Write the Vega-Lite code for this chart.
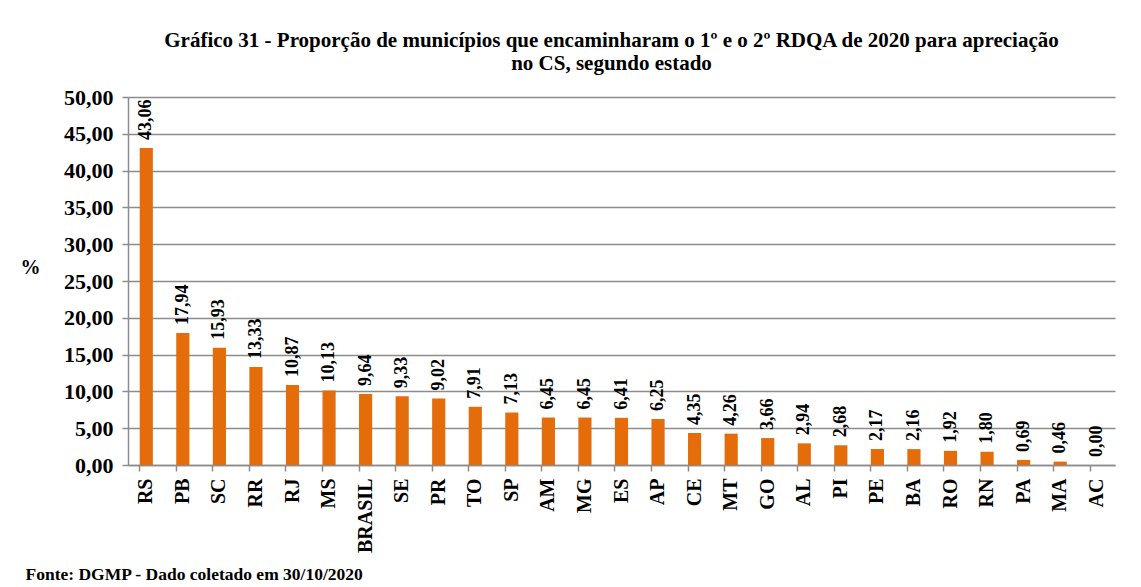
{
  "$schema": "https://vega.github.io/schema/vega-lite/v6.json",
  "width": 987,
  "height": 368,
  "autosize": {"type": "none"},
  "padding": {"left": 128, "top": 97, "right": 26, "bottom": 122},
  "background": "white",
  "config": {
    "locale": {"number": {"decimal": ",", "thousands": ".", "grouping": [3], "currency": ["R$", ""]}},
    "view": {"stroke": null},
    "font": "Liberation Serif, serif"
  },
  "title": {
    "text": ["Gráfico 31 - Proporção de municípios que encaminharam o 1º e o 2º RDQA  de 2020 para apreciação", "no CS,  segundo estado"],
    "font": "Liberation Serif, serif",
    "fontSize": 21,
    "fontWeight": "bold",
    "color": "black",
    "anchor": "middle",
    "lineHeight": 23,
    "offset": 12,
    "dx": -10
  },
  "data": {
    "values": [
      {"estado": "RS", "valor": 43.06},
      {"estado": "PB", "valor": 17.94},
      {"estado": "SC", "valor": 15.93},
      {"estado": "RR", "valor": 13.33},
      {"estado": "RJ", "valor": 10.87},
      {"estado": "MS", "valor": 10.13},
      {"estado": "BRASIL", "valor": 9.64},
      {"estado": "SE", "valor": 9.33},
      {"estado": "PR", "valor": 9.02},
      {"estado": "TO", "valor": 7.91},
      {"estado": "SP", "valor": 7.13},
      {"estado": "AM", "valor": 6.45},
      {"estado": "MG", "valor": 6.45},
      {"estado": "ES", "valor": 6.41},
      {"estado": "AP", "valor": 6.25},
      {"estado": "CE", "valor": 4.35},
      {"estado": "MT", "valor": 4.26},
      {"estado": "GO", "valor": 3.66},
      {"estado": "AL", "valor": 2.94},
      {"estado": "PI", "valor": 2.68},
      {"estado": "PE", "valor": 2.17},
      {"estado": "BA", "valor": 2.16},
      {"estado": "RO", "valor": 1.92},
      {"estado": "RN", "valor": 1.80},
      {"estado": "PA", "valor": 0.69},
      {"estado": "MA", "valor": 0.46},
      {"estado": "AC", "valor": 0.00}
    ]
  },
  "encoding": {
    "x": {
      "field": "estado",
      "type": "nominal",
      "sort": null,
      "scale": {"paddingInner": 0.64, "paddingOuter": 0.32},
      "axis": {
        "title": "Fonte: DGMP - Dado coletado em 30/10/2020",
        "titleFont": "Liberation Serif, serif",
        "titleFontSize": 17.5,
        "titleFontWeight": "bold",
        "titleColor": "black",
        "titleAnchor": "start",
        "titleAlign": "left",
        "titleX": -103,
        "titleY": 114,
        "titleBaseline": "alphabetic",
        "labelAngle": 270,
        "labelAlign": "right",
        "labelBaseline": "middle",
        "labelFont": "Liberation Serif, serif",
        "labelFontSize": 20,
        "labelFontWeight": "bold",
        "labelColor": "black",
        "labelPadding": 7,
        "bandPosition": 0,
        "tickSize": 6,
        "tickColor": "#8c8c8c",
        "domainColor": "#8c8c8c",
        "domainWidth": 1.5,
        "tickWidth": 1.5
      }
    },
    "y": {
      "field": "valor",
      "type": "quantitative",
      "scale": {"domain": [0, 50], "nice": false},
      "axis": {
        "title": "%",
        "titleAngle": 0,
        "titleFont": "Liberation Serif, serif",
        "titleFontSize": 20,
        "titleFontWeight": "bold",
        "titleColor": "black",
        "titleX": -98,
        "titleY": 180,
        "values": [0, 5, 10, 15, 20, 25, 30, 35, 40, 45, 50],
        "format": ".2f",
        "labelFont": "Liberation Serif, serif",
        "labelFontSize": 22,
        "labelFontWeight": "bold",
        "labelColor": "black",
        "labelPadding": 9,
        "grid": true,
        "gridColor": "#8c8c8c",
        "gridWidth": 1.5,
        "tickSize": 6,
        "tickColor": "#8c8c8c",
        "tickWidth": 1.5,
        "domainColor": "#8c8c8c",
        "domainWidth": 1.5
      }
    }
  },
  "layer": [
    {"mark": {"type": "bar", "color": "#E46C0A"}},
    {
      "mark": {
        "type": "text",
        "angle": 270,
        "align": "left",
        "baseline": "middle",
        "dx": 8,
        "font": "Liberation Serif, serif",
        "fontSize": 18,
        "fontWeight": "bold",
        "color": "black"
      },
      "encoding": {
        "text": {"field": "valor", "type": "quantitative", "format": ".2f"}
      }
    }
  ]
}
